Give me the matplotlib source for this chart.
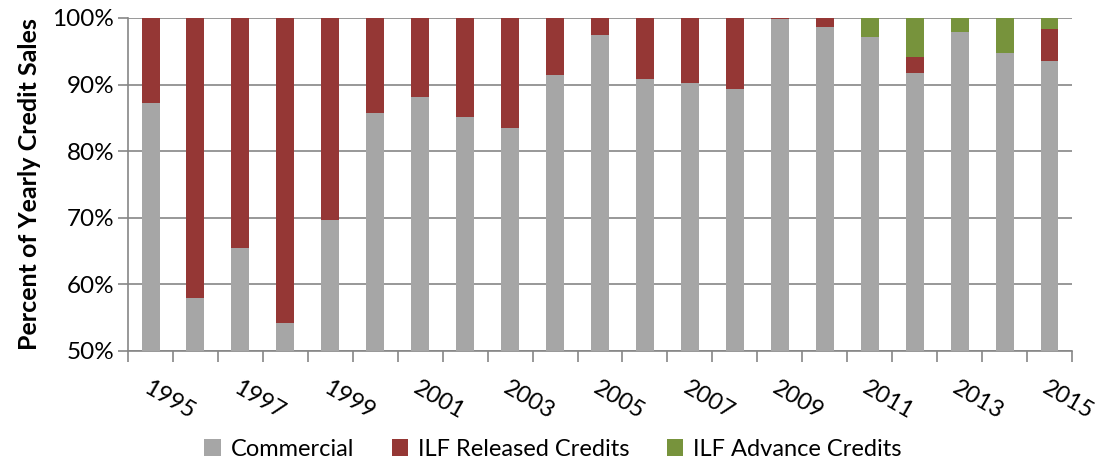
import numpy as np
import matplotlib.pyplot as plt
from matplotlib.ticker import FuncFormatter

plt.rcParams['font.family'] = ['Lato', 'DejaVu Sans']

years = list(range(1995, 2016))
commercial = [87.2, 57.9, 65.4, 54.2, 69.7, 85.7, 88.2, 85.1, 83.4, 91.5, 97.4,
              90.8, 90.2, 89.3, 99.8, 98.7, 97.2, 91.7, 97.9, 94.8, 93.5]
advance = [0, 0, 0, 0, 0, 0, 0, 0, 0, 0, 0,
           0, 0, 0, 0, 0, 2.8, 5.9, 2.1, 5.2, 1.7]
released = [100 - c - a for c, a in zip(commercial, advance)]

c_gray = '#A6A6A6'
c_red = '#953735'
c_green = '#77933C'
axis_col = '#868686'

fig, ax = plt.subplots(figsize=(11.04, 4.61), dpi=100)
fig.subplots_adjust(left=0.116, right=0.971, top=0.961, bottom=0.239)

x = np.arange(len(years))
w = 0.4
ax.bar(x, commercial, w, color=c_gray, label='Commercial', zorder=3)
ax.bar(x, released, w, bottom=commercial, color=c_red, label='ILF Released Credits', zorder=3)
ax.bar(x, advance, w, bottom=np.array(commercial) + np.array(released), color=c_green,
       label='ILF Advance Credits', zorder=3)

ax.set_ylim(50, 100)
ax.set_xlim(-0.5, len(years) - 0.5)
ax.set_yticks(np.arange(50, 101, 10))
ax.yaxis.set_major_formatter(FuncFormatter(lambda v, p: '%d%%' % v))
ax.yaxis.grid(True, color=axis_col, linewidth=1.2, zorder=0)
ax.tick_params(axis='y', length=7, color=axis_col, width=1.2, labelsize=17.5, pad=3)

ax.set_xticks(x[::2])
ax.set_xticklabels([str(y) for y in years[::2]], rotation=-30, ha='left', va='top',
                   rotation_mode='anchor', fontsize=17)
ax.set_xticks(np.arange(-0.5, len(years)), minor=True)
ax.tick_params(axis='x', which='major', length=0, pad=19)
ax.tick_params(axis='x', which='minor', length=8, color=axis_col, width=1.2)

for s in ['top', 'right']:
    ax.spines[s].set_visible(False)
for s in ['left', 'bottom']:
    ax.spines[s].set_color(axis_col)
    ax.spines[s].set_linewidth(1.2)

ax.set_ylabel('Percent of Yearly Credit Sales', fontsize=18, fontweight='bold', labelpad=8)

ax.legend(loc='upper center', bbox_to_anchor=(0.45, -0.2), ncol=3, frameon=False,
          fontsize=17, handlelength=0.7, handleheight=0.7, handletextpad=0.4,
          columnspacing=1.6)

fig.savefig('out.png', dpi=100)
